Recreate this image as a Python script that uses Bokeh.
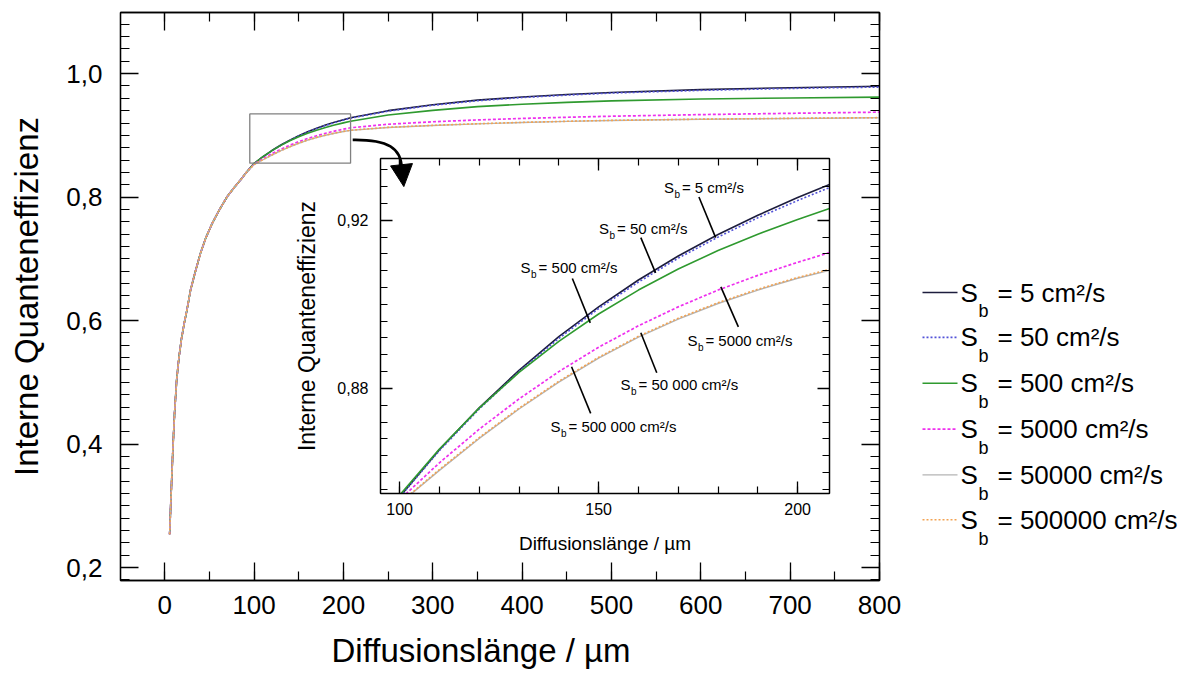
from bokeh.plotting import figure
from bokeh.models import (Range1d, LinearAxis, SingleIntervalTicker, CustomJSTickFormatter,
                          GridBox, Arrow, NormalHead, Title)
from bokeh.core.properties import value
from bokeh.embed import file_html
from bokeh.resources import INLINE

FONT = "Liberation Sans"

# ---------------- data ----------------
diff_len = [5.5, 7, 9.3, 11, 13.4, 16, 18.7, 22, 25, 29, 34, 40, 46, 53, 61, 70, 78, 85, 92,
            100, 110, 120, 130, 140, 150, 160, 170, 180, 190, 200, 208,
            250, 300, 350, 400, 450, 500, 600, 700, 800]

# shared part of all curves (x < 100)
iqe_low = [0.254, 0.313, 0.397, 0.450, 0.505, 0.541, 0.570, 0.597, 0.618, 0.650, 0.678,
           0.709, 0.734, 0.757, 0.779, 0.801, 0.816, 0.828, 0.841]

iqe_sb5 = iqe_low + [0.8542, 0.8654, 0.8754, 0.8843, 0.8923, 0.8994, 0.9058, 0.9115,
                     0.9166, 0.9212, 0.9254, 0.9285,
                     0.9400, 0.9495, 0.9570, 0.9622, 0.9662, 0.9695, 0.9740, 0.9772, 0.9796]
iqe_sb50 = iqe_low + [0.8541, 0.8652, 0.8751, 0.8840, 0.8919, 0.8990, 0.9053, 0.9110,
                      0.9160, 0.9206, 0.9247, 0.9278,
                      0.9392, 0.9487, 0.9561, 0.9613, 0.9652, 0.9685, 0.9729, 0.9760, 0.9782]
iqe_sb500 = iqe_low + [0.8546, 0.8656, 0.8753, 0.8838, 0.8912, 0.8977, 0.9034, 0.9084,
                       0.9128, 0.9167, 0.9202, 0.9228,
                       0.9330, 0.9405, 0.9465, 0.9505, 0.9535, 0.9558, 0.9588, 0.9606, 0.9620]
iqe_sb5000 = iqe_low + [0.8535, 0.8623, 0.8703, 0.8775, 0.8840, 0.8898, 0.8949, 0.8994,
                        0.9034, 0.9069, 0.9100, 0.9123,
                        0.9180, 0.9220, 0.9250, 0.9274, 0.9293, 0.9310, 0.9336, 0.9357, 0.9376]
iqe_sb50000 = iqe_low + [0.8526, 0.8605, 0.8681, 0.8751, 0.8815, 0.8872, 0.8922, 0.8965,
                         0.9002, 0.9034, 0.9062, 0.9081,
                         0.9128, 0.9160, 0.9186, 0.9208, 0.9226, 0.9241, 0.9260, 0.9274, 0.9285]
iqe_sb500000 = iqe_low + [0.8527, 0.8607, 0.8683, 0.8753, 0.8817, 0.8874, 0.8924, 0.8967,
                          0.9004, 0.9036, 0.9064, 0.9083,
                          0.9130, 0.9162, 0.9188, 0.9210, 0.9228, 0.9243, 0.9262, 0.9276, 0.9287]

series = [iqe_sb5, iqe_sb50, iqe_sb500, iqe_sb5000, iqe_sb50000, iqe_sb500000]
legend_values = ["5", "50", "500", "5000", "50000", "500000"]
inset_values = ["5", "50", "500", "5000", "50 000", "500 000"]

# visual styles
colors = ["#1d1d3d", "#5252d8", "#2f9a2f", "#ee30ee", "#b4b4b4", "#f2a353"]
dashes = ["solid", "2 2", "solid", "3 2", "solid", "2 2"]
widths = [1.6, 1.6, 1.6, 1.7, 1.4, 1.6]

# ranges
main_x = (-49.5, 800)
main_y = (0.179, 1.099)
ins_x = (95.2, 208.0)
ins_y = (0.855, 0.9347)

# inset annotation anchors (inset data units): text left/centre, leader line ends
ann_text_x = [166.4, 150.1, 130.4, 172.3, 155.5, 137.9]
ann_text_y = [0.9278, 0.9180, 0.90875, 0.89149, 0.88095, 0.87089]
ann_l_x0 = [175.2, 160.6, 143.4, 180.7, 160.6, 143.2]
ann_l_y0 = [0.92554, 0.91588, 0.90614, 0.90416, 0.89323, 0.88515]
ann_l_x1 = [179.4, 164.3, 147.9, 185.1, 164.6, 148.0]
ann_l_y1 = [0.91588, 0.90749, 0.89560, 0.89465, 0.88372, 0.87406]


def comma_fmt(decimals):
    return CustomJSTickFormatter(code="return tick.toFixed(%d).replace('.', ',');" % decimals)


def blank_fmt():
    return CustomJSTickFormatter(code="return '';")


def style_axis(ax, tick_size, label_size, major_in, minor_in, standoff, label_standoff,
               show_labels=True):
    ax.axis_line_color = "black"
    ax.axis_line_width = 1.3
    ax.major_tick_in = major_in
    ax.major_tick_out = 0
    ax.minor_tick_in = minor_in
    ax.minor_tick_out = 0
    ax.major_tick_line_color = "black"
    ax.minor_tick_line_color = "black"
    ax.major_tick_line_width = 1.3
    ax.minor_tick_line_width = 1.2
    ax.major_label_text_font = FONT
    ax.major_label_text_color = "black"
    ax.major_label_text_font_size = tick_size if show_labels else "1px"
    ax.major_label_standoff = standoff if show_labels else 0
    ax.axis_label_text_font = FONT
    ax.axis_label_text_font_size = label_size
    ax.axis_label_text_font_style = "normal"
    ax.axis_label_text_color = "black"
    ax.axis_label_standoff = label_standoff
    if not show_labels:
        ax.formatter = blank_fmt()


# ---------------- main figure ----------------
main = figure(width=910, height=682, x_range=Range1d(*main_x), y_range=Range1d(*main_y),
              output_backend="svg", toolbar_location=None,
              min_border_left=120, min_border_right=31, min_border_top=12,
              min_border_bottom=100,
              y_axis_label="Interne Quanteneffizienz")
main.xgrid.visible = False
main.ygrid.visible = False
main.outline_line_color = "black"
main.outline_line_width = 1.3

main.xaxis.ticker = SingleIntervalTicker(interval=100, num_minor_ticks=2)
main.yaxis.ticker = SingleIntervalTicker(interval=0.2, num_minor_ticks=10)
main.yaxis.formatter = comma_fmt(1)
for ax in main.xaxis:
    style_axis(ax, "26px", "32px", 18, 9, 15, 18)
for ax in main.yaxis:
    style_axis(ax, "26px", "33px", 18, 9, 18, 18)

# x axis title (slightly left of the frame centre, as in the original)
main.add_layout(Title(text="Diffusionslänge / µm", align="left", offset=211,
                      text_font=FONT, text_font_size="33px", text_font_style="normal",
                      text_color="black", standoff=27), "below")

top_ax = LinearAxis(ticker=SingleIntervalTicker(interval=100, num_minor_ticks=2))
style_axis(top_ax, "26px", "32px", 18, 9, 0, 0, show_labels=False)
main.add_layout(top_ax, "above")
right_ax = LinearAxis(ticker=SingleIntervalTicker(interval=0.2, num_minor_ticks=10))
style_axis(right_ax, "26px", "32px", 18, 9, 0, 0, show_labels=False)
main.add_layout(right_ax, "right")

for ys, c, d, w in zip(series, colors, dashes, widths):
    main.line(diff_len, ys, line_color=c, line_dash=d, line_width=w)

# zoom rectangle
main.quad(left=[ins_x[0]], right=[ins_x[1]], bottom=[ins_y[0]], top=[ins_y[1]],
          fill_color=None, line_color="#808080", line_width=1.3)

# curved arrow from the rectangle to the inset
main.bezier(x0=[ins_x[1] + 2.4], y0=[0.8927], x1=[265.3], y1=[0.8460],
            cx0=[250.0], cy0=[0.8935], cx1=[265.0], cy1=[0.8790],
            line_color="black", line_width=2.6)
main.add_layout(Arrow(end=NormalHead(size=22, fill_color="black", line_color="black"),
                      x_start=265.2, y_start=0.8500, x_end=267.6, y_end=0.8170,
                      line_color="black", line_width=2.6))

# ---------------- inset figure ----------------
inset = figure(width=560, height=420, x_range=Range1d(*ins_x), y_range=Range1d(*ins_y),
               output_backend="svg", toolbar_location=None,
               min_border_left=90, min_border_right=21, min_border_top=8,
               min_border_bottom=77,
               x_axis_label="Diffusionslänge / µm", y_axis_label="Interne Quanteneffizienz")
inset.background_fill_color = None
inset.border_fill_color = None
inset.xgrid.visible = False
inset.ygrid.visible = False
inset.outline_line_color = "black"
inset.outline_line_width = 1.2
inset.xaxis.ticker = SingleIntervalTicker(interval=50, num_minor_ticks=5)
inset.yaxis.ticker = SingleIntervalTicker(interval=0.04, num_minor_ticks=10)
inset.yaxis.formatter = comma_fmt(2)
for ax in inset.xaxis:
    style_axis(ax, "16px", "19px", 12, 7, 9, 15)
for ax in inset.yaxis:
    style_axis(ax, "16px", "23px", 12, 7, 12, 14)
itop = LinearAxis(ticker=SingleIntervalTicker(interval=50, num_minor_ticks=5))
style_axis(itop, "16px", "19px", 12, 7, 0, 0, show_labels=False)
inset.add_layout(itop, "above")
iright = LinearAxis(ticker=SingleIntervalTicker(interval=0.04, num_minor_ticks=10))
style_axis(iright, "16px", "19px", 12, 7, 0, 0, show_labels=False)
inset.add_layout(iright, "right")

for ys, c, d, w in zip(series, colors, dashes, widths):
    inset.line(diff_len, ys, line_color=c, line_dash=d, line_width=w)

inset.segment(x0=ann_l_x0, y0=ann_l_y0, x1=ann_l_x1, y1=ann_l_y1,
              line_color="black", line_width=1.6)
inset.text(x=ann_text_x, y=ann_text_y, text=["S"] * 6, text_font=value(FONT),
           text_font_size="15px", text_align="left", text_baseline="middle",
           text_color="black")
inset.text(x=ann_text_x, y=ann_text_y, text=["b"] * 6, text_font=value(FONT),
           text_font_size="10px", text_align="left", text_baseline="middle",
           text_color="black", x_offset=10.5, y_offset=7)
inset.text(x=ann_text_x, y=ann_text_y, text=["= %s cm²/s" % v for v in inset_values],
           text_font=value(FONT), text_font_size="15px", text_align="left",
           text_baseline="middle", text_color="black", x_offset=18)

# ---------------- legend figure ----------------
# its frame is aligned with the main frame (rows shared), so the ranges below make
# legend coordinates equal to page pixels (x from the left, y from the top)
leg = figure(width=318, height=682, x_range=Range1d(880, 1198), y_range=Range1d(582, 12),
             output_backend="svg", toolbar_location=None, min_border=0)
leg.axis.visible = False
leg.grid.visible = False
leg.outline_line_color = None
leg.background_fill_color = None
leg.border_fill_color = None

leg_rows = [293, 338, 384, 430, 476, 521]
for yy, c, d, w in zip(leg_rows, colors, dashes, widths):
    leg.line([922, 957], [yy, yy], line_color=c, line_dash=d, line_width=w)
leg.text(x=[960] * 6, y=leg_rows, text=["S"] * 6, text_font=value(FONT),
         text_font_size="26px", text_align="left", text_baseline="middle", text_color="black")
leg.text(x=[978] * 6, y=[r + 19 for r in leg_rows], text=["b"] * 6, text_font=value(FONT),
         text_font_size="18px", text_align="left", text_baseline="middle", text_color="black")
leg.text(x=[997] * 6, y=leg_rows, text=["= %s cm²/s" % v for v in legend_values],
         text_font=value(FONT), text_font_size="26px", text_align="left",
         text_baseline="middle", text_color="black")

layout = GridBox(children=[(main, 0, 0, 3, 4), (inset, 1, 1, 1, 1), (leg, 0, 3, 3, 2)],
                 rows=["150px", "420px", "112px"],
                 cols=["290px", "560px", "30px", "30px", "288px"])

open("out.html", "w").write(file_html(layout, INLINE))
